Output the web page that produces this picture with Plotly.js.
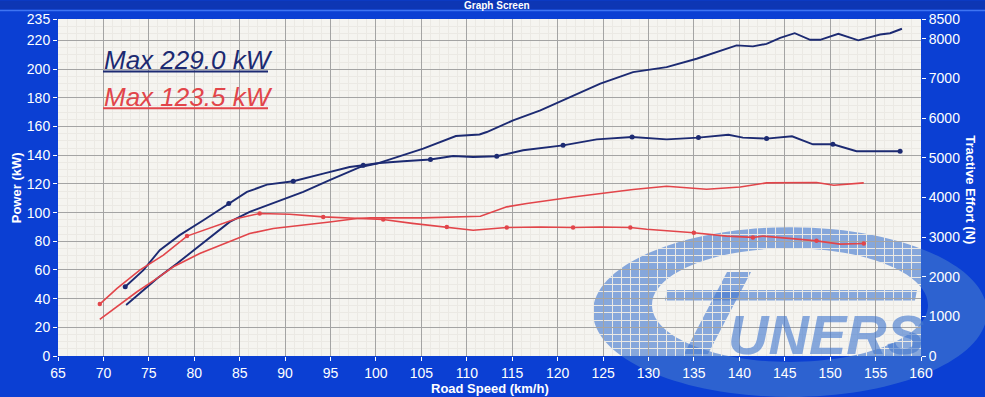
<!DOCTYPE html>
<html>
<head>
<meta charset="utf-8">
<script src="https://cdn.plot.ly/plotly-3.0.1.min.js"></script>
<style>
  html, body { margin: 0; padding: 0; background: #0b3fd3; }
  #chart { width: 985px; height: 397px; }
</style>
</head>
<body>
<div id="chart"></div>
<script>
// ---- Data ----
const bluePowerSpeed = [72.5, 75.9, 78.1, 81.4, 83.9, 86.1, 89.1, 92.0, 94.9, 98.3, 100.1, 105.2, 108.8, 111.4, 112.2, 115.1, 118.1, 121.0, 124.7, 128.3, 132.0, 135.3, 137.5, 139.7, 141.5, 143.0, 144.5, 146.1, 147.8, 148.9, 150.9, 153.1, 155.5, 156.6, 157.9];
const bluePowerKW    = [35.5, 54.1, 64.5, 80.8, 93.5, 100.5, 107.5, 114.4, 122.6, 131.8, 134.2, 144.6, 153.4, 154.5, 156.2, 164.3, 171.3, 179.4, 189.9, 198.0, 201.4, 207.3, 211.9, 216.6, 215.9, 217.7, 221.9, 225.1, 220.5, 220.5, 224.7, 220.1, 224.2, 225.1, 228.2];

const blueTractiveSpeed = [72.4, 74.4, 76.2, 78.4, 81.0, 83.8, 85.8, 88.0, 90.9, 94.2, 97.1, 98.6, 100.4, 103.0, 106.0, 108.5, 110.7, 113.3, 116.2, 120.6, 124.3, 128.2, 132.0, 135.5, 138.8, 140.4, 143.0, 145.8, 148.1, 150.3, 152.9, 157.7];
const blueTractiveN     = [1747, 2167, 2669, 3049, 3425, 3845, 4138, 4322, 4409, 4601, 4767, 4811, 4869, 4912, 4955, 5046, 5020, 5038, 5190, 5313, 5465, 5523, 5465, 5509, 5581, 5509, 5483, 5541, 5339, 5339, 5165, 5165];

const redPowerSpeed = [69.6, 71.5, 73.7, 75.9, 77.7, 80.6, 83.9, 86.1, 88.7, 92.0, 94.9, 97.9, 99.4, 105.2, 111.5, 114.4, 116.6, 121.7, 124.7, 126.9, 128.3, 132.0, 136.4, 140.1, 143.0, 148.5, 150.4, 153.7];
const redPowerKW    = [25.5, 34.3, 44.8, 54.1, 62.2, 71.5, 79.6, 85.4, 88.9, 91.2, 93.5, 95.9, 96.3, 96.3, 97.5, 104.0, 106.3, 110.9, 113.3, 115.5, 116.1, 118.4, 116.3, 117.9, 120.7, 121.0, 119.1, 120.7];

const redTractiveSpeed = [69.6, 71.5, 74.0, 76.6, 79.2, 82.1, 84.7, 87.2, 90.5, 94.2, 97.5, 100.8, 104.0, 107.8, 110.7, 114.4, 118.1, 121.7, 124.7, 128.0, 129.8, 135.0, 138.6, 141.5, 142.6, 145.5, 148.5, 151.1, 153.7];
const redTractiveN     = [1309, 1704, 2167, 2543, 3024, 3255, 3469, 3595, 3577, 3508, 3480, 3443, 3346, 3255, 3172, 3241, 3255, 3241, 3255, 3241, 3197, 3107, 3024, 2991, 3024, 2966, 2904, 2821, 2839];

// indices of the sample points drawn with a dot marker
const blueMarkerIdx = [0, 5, 8, 11, 14, 17, 19, 21, 23, 26, 29, 31];
const redMarkerIdx  = [0, 4, 7, 9, 11, 13, 15, 17, 19, 21, 23, 26, 28];

const powerTicks    = [0, 20, 40, 60, 80, 100, 120, 140, 160, 180, 200, 220, 235];
const tractiveTicks = [0, 1000, 2000, 3000, 4000, 5000, 6000, 7000, 8000, 8500];

const maxLabels = ['Max 229.0 kW', 'Max 123.5 kW'];

// ---- Styling ----
const BLUE = '#1c2a72';
const RED = '#e2454a';
const FRAME = '#0b3fd3';
const FONT = 'Liberation Sans, Arial, sans-serif';

// pixel -> paper helpers (plot area: x 58..921, y 18.5..356)
const L = 58, R = 921, T = 18.5, B = 356;
const PX = p => (p - L) / (R - L);
const PY = p => (B - p) / (B - T);

function pick(arr, idx) { return idx.map(i => arr[i]); }

const traces = [
  {x: blueTractiveSpeed, y: blueTractiveN, yaxis: 'y2', mode: 'lines', line: {color: BLUE, width: 1.9}},
  {x: pick(blueTractiveSpeed, blueMarkerIdx), y: pick(blueTractiveN, blueMarkerIdx), yaxis: 'y2', mode: 'markers', marker: {color: BLUE, size: 5}},
  {x: bluePowerSpeed, y: bluePowerKW, mode: 'lines', line: {color: BLUE, width: 1.9}},
  {x: redTractiveSpeed, y: redTractiveN, yaxis: 'y2', mode: 'lines', line: {color: RED, width: 1.6}},
  {x: pick(redTractiveSpeed, redMarkerIdx), y: pick(redTractiveN, redMarkerIdx), yaxis: 'y2', mode: 'markers', marker: {color: RED, size: 4.5}},
  {x: redPowerSpeed, y: redPowerKW, mode: 'lines', line: {color: RED, width: 1.6}}
];

// ellipse path in paper coordinates using cubic beziers
function ellipsePath(cx, cy, rx, ry) {
  const k = 0.5523;
  const X = v => PX(v).toFixed(5), Y = v => PY(v).toFixed(5);
  return `M${X(cx+rx)},${Y(cy)} ` +
    `C${X(cx+rx)},${Y(cy+k*ry)} ${X(cx+k*rx)},${Y(cy+ry)} ${X(cx)},${Y(cy+ry)} ` +
    `C${X(cx-k*rx)},${Y(cy+ry)} ${X(cx-rx)},${Y(cy+k*ry)} ${X(cx-rx)},${Y(cy)} ` +
    `C${X(cx-rx)},${Y(cy-k*ry)} ${X(cx-k*rx)},${Y(cy-ry)} ${X(cx)},${Y(cy-ry)} ` +
    `C${X(cx+k*rx)},${Y(cy-ry)} ${X(cx+rx)},${Y(cy-k*ry)} ${X(cx+rx)},${Y(cy)} Z`;
}
function polyPath(pts) {
  return 'M' + pts.map(p => PX(p[0]).toFixed(5) + ',' + PY(p[1]).toFixed(5)).join(' L') + ' Z';
}
const WM = 'rgba(66,119,206,0.62)';

const shapes = [
  // title strip
  {type: 'rect', xref: 'paper', yref: 'paper', x0: PX(0), x1: PX(985), y0: PY(9), y1: PY(0), fillcolor: '#0d36b4', line: {width: 0}, layer: 'below'},
  {type: 'line', xref: 'paper', yref: 'paper', x0: PX(0), x1: PX(985), y0: PY(10), y1: PY(10), line: {color: '#3f74f2', width: 1.5}, layer: 'below'},
  // watermark crescent
  {type: 'path', xref: 'paper', yref: 'paper', path: ellipsePath(790, 312, 197, 85) + ' ' + ellipsePath(790, 305, 138, 57),
   fillrule: 'evenodd', fillcolor: WM, line: {width: 0}, layer: 'below'},
  // watermark T
  {type: 'path', xref: 'paper', yref: 'paper', path: polyPath([[667, 290], [917, 290], [915, 300.5], [665, 300.5]]), fillcolor: WM, line: {width: 0}, layer: 'below'},
  {type: 'path', xref: 'paper', yref: 'paper', path: polyPath([[727, 272], [751, 272], [708, 354], [684, 354]]), fillcolor: WM, line: {width: 0}, layer: 'below'},
  // underlines of the max labels
  {type: 'line', xref: 'paper', yref: 'paper', x0: PX(103), x1: PX(268), y0: PY(71), y1: PY(71), line: {color: BLUE, width: 2}},
  {type: 'line', xref: 'paper', yref: 'paper', x0: PX(103), x1: PX(268), y0: PY(108), y1: PY(108), line: {color: RED, width: 2}}
];

const annotations = [
  {text: '<b>Graph Screen</b>', xref: 'paper', yref: 'paper', x: PX(497), y: PY(5), xanchor: 'center', yanchor: 'middle', showarrow: false, font: {family: FONT, size: 10, color: '#ffffff'}},
  {text: '<i>' + maxLabels[0] + '</i>', xref: 'paper', yref: 'paper', x: PX(102), y: PY(60), xanchor: 'left', yanchor: 'middle', showarrow: false, font: {family: FONT, size: 26, color: BLUE}},
  {text: '<i>' + maxLabels[1] + '</i>', xref: 'paper', yref: 'paper', x: PX(102), y: PY(97), xanchor: 'left', yanchor: 'middle', showarrow: false, font: {family: FONT, size: 26, color: RED}},
  {text: '<b>Power (kW)</b>', xref: 'paper', yref: 'paper', x: PX(16), y: PY(188), xanchor: 'center', yanchor: 'middle', textangle: -90, showarrow: false, font: {family: FONT, size: 13, color: '#ffffff'}},
  {text: '<b>Tractive Effort (N)</b>', xref: 'paper', yref: 'paper', x: PX(971), y: PY(189), xanchor: 'center', yanchor: 'middle', textangle: 90, showarrow: false, font: {family: FONT, size: 13, color: '#ffffff'}},
  {text: '<b>Road Speed (km/h)</b>', xref: 'paper', yref: 'paper', x: PX(490), y: PY(389), xanchor: 'center', yanchor: 'middle', showarrow: false, font: {family: FONT, size: 13, color: '#ffffff'}},
  {text: '<b><i>UNERS</i></b>', xref: 'paper', yref: 'paper', x: PX(826), y: PY(334), xanchor: 'center', yanchor: 'middle', showarrow: false, font: {family: FONT, size: 56, color: WM}}
];

const layout = {
  width: 985, height: 397,
  margin: {l: L, r: 985 - R, t: T, b: 397 - B, pad: 0},
  paper_bgcolor: FRAME,
  plot_bgcolor: '#f5f4f0',
  showlegend: false,
  font: {family: FONT, color: '#ffffff', size: 14},
  xaxis: {
    range: [65, 160], tick0: 65, dtick: 5, showgrid: true, gridcolor: '#a4a4a4', gridwidth: 1,
    zeroline: false, showline: false, ticks: 'outside', ticklen: 4, tickcolor: '#ffffff',
    tickfont: {family: FONT, size: 14, color: '#ffffff'},
    minor: {dtick: 1, showgrid: true, gridcolor: '#ebe9e4', gridwidth: 1}
  },
  yaxis: {
    range: [0, 235], tickmode: 'array', tickvals: powerTicks, showgrid: true, gridcolor: '#a4a4a4', gridwidth: 1,
    zeroline: false, showline: false, ticks: 'outside', ticklen: 4, tickcolor: '#ffffff',
    tickfont: {family: FONT, size: 14, color: '#ffffff'},
    minor: {tickmode: 'linear', tick0: 0, dtick: 5, showgrid: true, gridcolor: '#ebe9e4', gridwidth: 1}
  },
  yaxis2: {
    range: [0, 8500], overlaying: 'y', side: 'right', tickmode: 'array', tickvals: tractiveTicks,
    showgrid: false, zeroline: false, showline: false, ticks: 'outside', ticklen: 4, tickcolor: '#ffffff',
    tickfont: {family: FONT, size: 14, color: '#ffffff'}
  },
  shapes: shapes,
  annotations: annotations
};

Plotly.newPlot('chart', traces, layout, {displayModeBar: false, staticPlot: true});
</script>
</body>
</html>
